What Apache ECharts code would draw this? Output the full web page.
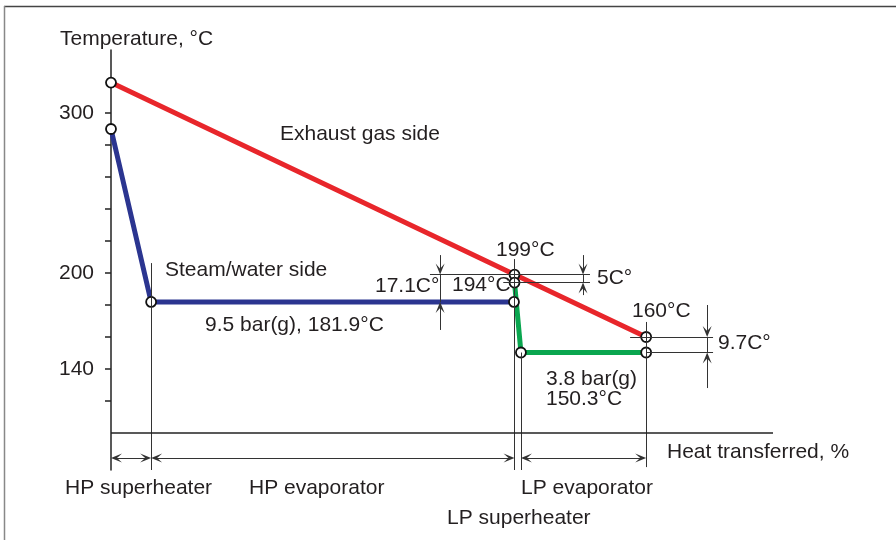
<!DOCTYPE html>
<html>
<head>
<meta charset="utf-8">
<script src="https://cdn.jsdelivr.net/npm/echarts@6/dist/echarts.min.js"></script>
<style>
  html, body { margin: 0; padding: 0; background: #fff; }
  #chart { width: 896px; height: 540px; }
</style>
</head>
<body>
<div id="chart"></div>
<script>
// heat transferred (%) at the section boundaries
var sectionX = [0, 7.5, 75.4, 76.6, 100];
// exhaust gas side temperatures (deg C)
var gasX = [0, 75.4, 100];
var gasT = [319, 199, 160];
// HP steam/water side
var hpX = [0, 7.5, 75.3];
var hpT = [290, 181.9, 181.9];
// LP steam/water side
var lpX = [75.4, 76.6, 100];
var lpT = [194, 150.3, 150.3];
// y axis ticks and labels
var yTicks = [120, 140, 160, 180, 200, 220, 240, 260, 280, 300];
var yLabels = [140, 200, 300];

var FONT = "'Liberation Sans', Arial, sans-serif";
var INK = '#231f20';
var ARROW = 'path://M5,0L10,12L5,6.5L0,12Z';
var ARROW_LEN = 11;

var W = 896, H = 540;
var G = {left: 111, right: 123, top: 50, bottom: 70};
var yMin = 76.875, yMax = 339.375, xMax = 123.7;
var dimY = 84.4;
// pixels per data unit, used only to pull the arrow heads back so their tips meet the ends
var kx = (W - G.left - G.right) / xMax;
var ky = (H - G.top - G.bottom) / (yMax - yMin);

function pairs(xs, ys){
    var out = [];
    for (var i = 0; i < xs.length; i++){
        out.push([xs[i], ys[i]]);
    }
    return out;
}

function dimLine(x1, y1, x2, y2, headStart, headEnd){
    var dx = (x2 - x1) * kx, dy = (y2 - y1) * ky;
    var len = Math.sqrt(dx * dx + dy * dy);
    var h = ARROW_LEN / 2;
    var ux = (x2 - x1) / len * h, uy = (y2 - y1) / len * h;
    var a = headStart ? [x1 + ux, y1 + uy] : [x1, y1];
    var b = headEnd ? [x2 - ux, y2 - uy] : [x2, y2];
    return [
        {coord: a, symbol: headStart ? ARROW : 'none'},
        {coord: b, symbol: headEnd ? ARROW : 'none'}
    ];
}
function seg(x1, y1, x2, y2){ return dimLine(x1, y1, x2, y2, false, false); }
function arrowEnd(x1, y1, x2, y2){ return dimLine(x1, y1, x2, y2, false, true); }
function arrowBoth(x1, y1, x2, y2){ return dimLine(x1, y1, x2, y2, true, true); }

var guides = [
    // extension lines down to the dimension row
    seg(sectionX[1], 206.2, sectionX[1], yMin),
    seg(sectionX[2], 208.7, sectionX[2], yMin),
    seg(sectionX[3], lpT[1], sectionX[3], yMin),
    seg(sectionX[4], 169.4, sectionX[4], 78.7),
    // pinch point levels
    seg(59.6, gasT[1], 89.5, gasT[1]),
    seg(73.3, lpT[0], 89.5, lpT[0]),
    seg(97, gasT[2], 112.5, gasT[2]),
    seg(sectionX[4], lpT[2], 112.5, lpT[2]),
    // 17.1 C
    arrowEnd(61.5, 211.2, 61.5, gasT[1]),
    seg(61.5, gasT[1], 61.5, hpT[2]),
    arrowEnd(61.5, 164.4, 61.5, hpT[2]),
    // 5 C
    arrowEnd(88.2, 211.2, 88.2, gasT[1]),
    seg(88.2, gasT[1], 88.2, lpT[0]),
    arrowEnd(88.2, 186.2, 88.2, lpT[0]),
    // 9.7 C
    arrowEnd(111.4, 180, 111.4, gasT[2]),
    seg(111.4, gasT[2], 111.4, lpT[2]),
    arrowEnd(111.4, 128.1, 111.4, lpT[2]),
    // section widths
    arrowBoth(sectionX[0], dimY, sectionX[1], dimY),
    arrowBoth(sectionX[1], dimY, sectionX[2], dimY),
    arrowBoth(sectionX[3], dimY, sectionX[4], dimY)
];

function txt(s, x, y){
    return {
        type: 'text', x: x, y: y, silent: true,
        style: {text: s, fontSize: 21, fontFamily: FONT, fill: INK, align: 'left', verticalAlign: 'middle'}
    };
}

var pointStyle = {color: '#fff', borderColor: '#111', borderWidth: 1.8};

var chart = echarts.init(document.getElementById('chart'));
var option = {
    animation: false,
    backgroundColor: '#fff',
    grid: G,
    xAxis: {type: 'value', min: 0, max: xMax, show: false},
    yAxis: {
        type: 'value', min: yMin, max: yMax,
        splitLine: {show: false},
        axisLine: {show: true, lineStyle: {color: '#222', width: 1.5}},
        axisTick: {show: true, length: 6, customValues: yTicks, lineStyle: {color: '#222', width: 1.5}},
        axisLabel: {customValues: yLabels, margin: 17, fontSize: 21, fontFamily: FONT, color: INK}
    },
    series: [
        {
            name: 'Exhaust gas side', type: 'line', z: 2,
            data: pairs(gasX, gasT),
            symbol: 'circle', symbolSize: 10, itemStyle: pointStyle,
            lineStyle: {color: '#e8262b', width: 5}
        },
        {
            name: 'HP steam', type: 'line', z: 2,
            data: pairs(hpX, hpT),
            symbol: 'circle', symbolSize: 10, itemStyle: pointStyle,
            lineStyle: {color: '#2b3590', width: 5}
        },
        {
            name: 'LP steam', type: 'line', z: 2,
            data: pairs(lpX, lpT),
            symbol: 'circle', symbolSize: 10, itemStyle: pointStyle,
            lineStyle: {color: '#0aa64f', width: 5}
        },
        {
            name: 'baseline', type: 'line', z: 5,
            data: [[0, 100], [xMax, 100]],
            symbol: 'none', silent: true,
            lineStyle: {color: '#222', width: 1.5},
            markLine: {
                silent: true, animation: false,
                symbolSize: [9, ARROW_LEN],
                label: {show: false},
                lineStyle: {color: '#333', width: 1, type: 'solid'},
                emphasis: {disabled: true},
                data: guides
            }
        }
    ],
    graphic: [
        {type: 'line', silent: true, shape: {x1: 4, y1: 6.5, x2: 896, y2: 6.5}, style: {stroke: '#444', lineWidth: 1.5}},
        {type: 'line', silent: true, shape: {x1: 4.5, y1: 6, x2: 4.5, y2: 540}, style: {stroke: '#888', lineWidth: 1.5}},
        txt('Temperature, °C', 60, 39),
        txt('Exhaust gas side', 280, 134),
        txt('Steam/water side', 165, 270),
        txt('9.5 bar(g), 181.9°C', 205, 325),
        txt('17.1C°', 375, 286),
        txt('194°C', 452, 285),
        txt('199°C', 496, 250),
        txt('5C°', 597, 278),
        txt('160°C', 632, 311),
        txt('9.7C°', 718, 343),
        txt('3.8 bar(g)', 546, 379),
        txt('150.3°C', 546, 399),
        txt('Heat transferred, %', 667, 452),
        txt('HP superheater', 65, 488),
        txt('HP evaporator', 249, 488),
        txt('LP evaporator', 521, 488),
        txt('LP superheater', 447, 518)
    ]
};
chart.setOption(option);
</script>
</body>
</html>
